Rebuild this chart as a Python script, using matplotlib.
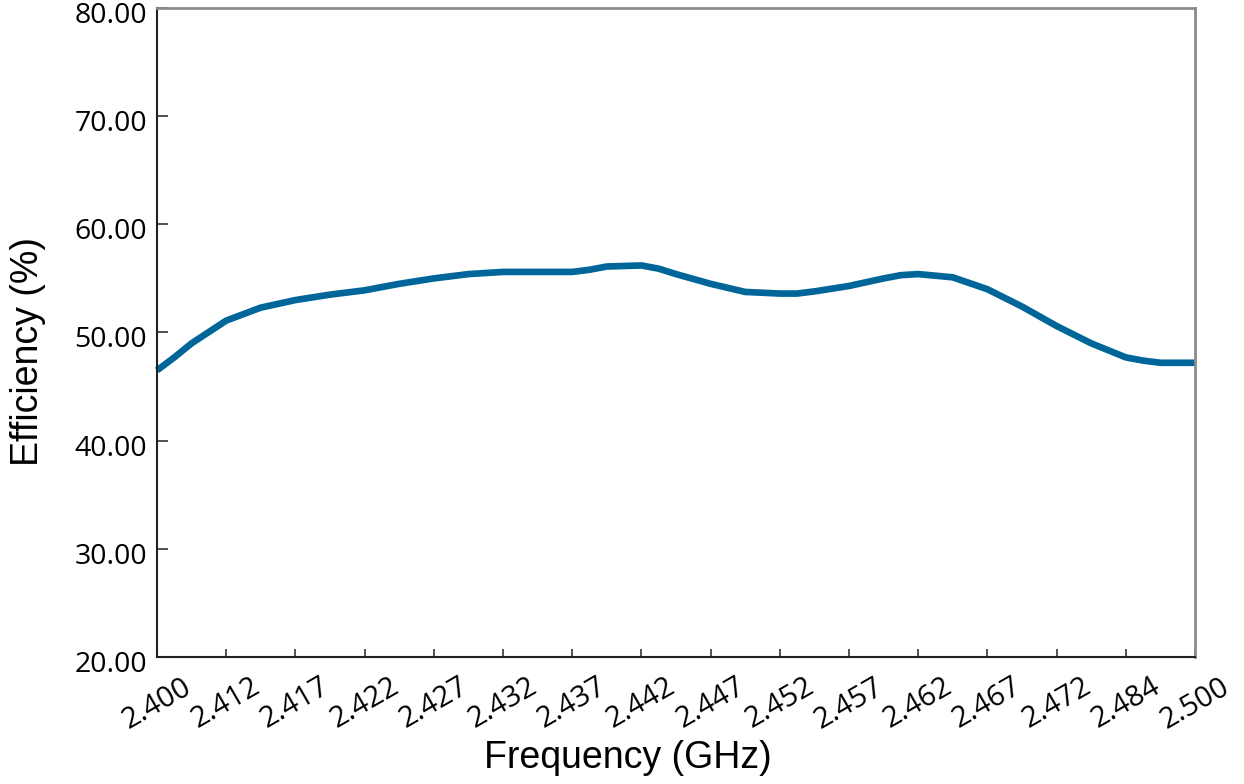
import matplotlib.pyplot as plt
import matplotlib.transforms as mtrans
import numpy as np

# ------ data (x in tick-index units):
freq_labels = ["2.400", "2.412", "2.417", "2.422", "2.427", "2.432", "2.437", "2.442",
               "2.447", "2.452", "2.457", "2.462", "2.467", "2.472", "2.484", "2.500"]
pos = [0, 0.25, 0.5, 1, 1.5, 2, 2.5, 3, 3.5, 4, 4.5, 5, 5.5, 6, 6.25, 6.5, 7, 7.25, 7.5,
       8, 8.5, 9, 9.25, 9.5, 10, 10.5, 10.75, 11, 11.5, 12, 12.5, 13, 13.5, 14, 14.25, 14.5, 15]
efficiency = [46.5, 47.7, 49.0, 51.1, 52.3, 53.0, 53.5, 53.9, 54.5, 55.0, 55.4, 55.6, 55.6,
              55.6, 55.8, 56.1, 56.2, 55.9, 55.4, 54.5, 53.75, 53.6, 53.6, 53.8, 54.3, 55.0,
              55.3, 55.4, 55.1, 54.0, 52.4, 50.6, 49.0, 47.7, 47.4, 47.2, 47.2]
y_ticks = [20, 30, 40, 50, 60, 70, 80]
# ------------

fig = plt.figure(figsize=(12.44, 7.84), dpi=100)
ax = fig.add_axes([157/1244, 1 - 657/784, (1195-157)/1244, (657-8)/784])

ax.plot(pos, efficiency, color="#006699", linewidth=4.8, solid_joinstyle="round",
        solid_capstyle="butt", clip_on=False)

ax.set_xlim(0, 15)
ax.set_ylim(20, 80)
ax.set_xticks(np.arange(len(freq_labels)))
ax.set_xticklabels(freq_labels, rotation=30, ha="center", fontsize=21, family="Open Sans")
ax.set_yticks(y_ticks)
ax.set_yticklabels([])

# y tick labels drawn as texts: they sit a little below their ticks in the original
ylab_trans = ax.get_yaxis_transform() + mtrans.ScaledTranslation(-10/100, -8/100, fig.dpi_scale_trans)
for v in y_ticks:
    ax.text(0, v, f"{v:.2f}", transform=ylab_trans, ha="right", va="center",
            fontsize=20.5, family="Open Sans")

ax.tick_params(axis="x", direction="in", length=6, width=1.2, pad=11, color="#333333")
ax.tick_params(axis="y", direction="in", length=8, width=1.2, color="#333333")

for side in ["top", "right"]:
    ax.spines[side].set_color("#8c8c8c")
    ax.spines[side].set_linewidth(2)
for side in ["left", "bottom"]:
    ax.spines[side].set_color("#222222")
    ax.spines[side].set_linewidth(1.5)

ax.set_xlabel("Frequency (GHz)", fontsize=27, family="Liberation Sans")
ax.set_ylabel("Efficiency (%)", fontsize=27, family="Liberation Sans")
ax.xaxis.set_label_coords(0.4538, -0.128)
ax.yaxis.set_label_coords(-0.107, 0.47)

plt.savefig("out.png", dpi=100)
